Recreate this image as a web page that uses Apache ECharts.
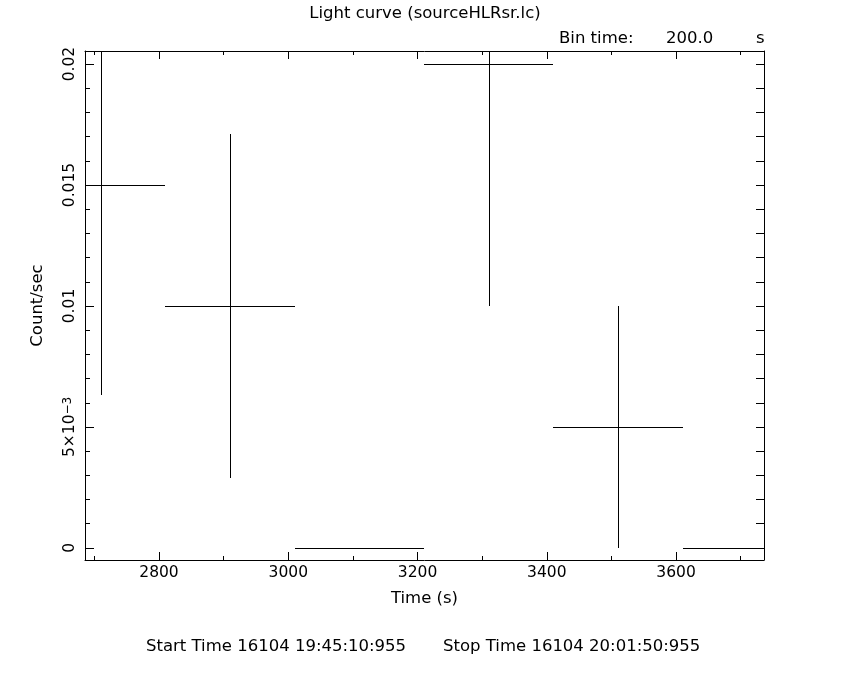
<!DOCTYPE html>
<html>
<head>
<meta charset="utf-8">
<script src="https://cdn.jsdelivr.net/npm/echarts@6/dist/echarts.min.js"></script>
<style>
html,body{margin:0;padding:0;background:#fff;}
#chart{width:850px;height:680px;}
</style>
</head>
<body>
<div id="chart"></div>
<script>
// ---- data ----
const binTime = 200;                                   // s
const binCenters = [2710, 2910, 3110, 3310, 3510, 3710];
const rates      = [0.015, 0.010, 0, 0.020, 0.005, 0];
const rateErrors = [0.0087, 0.0071, 0, 0.010, 0.005, 0];

const xMajorTicks = [2800, 3000, 3200, 3400, 3600];
const xTickLabels = ['2800', '3000', '3200', '3400', '3600'];
const xMinorTicks = [2700, 2900, 3100, 3300, 3500, 3700];
const yMajorTicks = [0, 0.005, 0.01, 0.015, 0.02];
const yTickLabels = ['{b|0}', '{b|5×10}{s|−3}', '{b|0.01}', '{b|0.015}', '{b|0.02}'];
const yMinorTicks = [0.001, 0.002, 0.003, 0.004, 0.006, 0.007, 0.008, 0.009,
                     0.011, 0.012, 0.013, 0.014, 0.016, 0.017, 0.018, 0.019];
const yAllTicks = [0, 0.001, 0.002, 0.003, 0.004, 0.005, 0.006, 0.007, 0.008, 0.009, 0.01,
                   0.011, 0.012, 0.013, 0.014, 0.015, 0.016, 0.017, 0.018, 0.019, 0.02];

const titleText = 'Light curve (sourceHLRsr.lc)';
const binLabel = 'Bin time:';
const binValue = '200.0';
const binUnit = 's';
const startText = 'Start Time 16104 19:45:10:955';
const stopText = 'Stop Time 16104 20:01:50:955';

// ---- chart ----
const FONT = '"DejaVu Sans", sans-serif';
const X_MIN = 2685.5, X_MAX = 3736;
const Y_MIN = -0.0005, Y_MAX = 0.02054;

const chart = echarts.init(document.getElementById('chart'), null, {renderer: 'canvas'});

const black = {color: '#000', width: 1};
function nearestIndex(arr, v) {
  let idx = 0, best = Infinity;
  arr.forEach((m, i) => { const d = Math.abs(m - v); if (d < best) { best = d; idx = i; } });
  return idx;
}
function xAxisDef(pos, ticks, len, opts) {
  return Object.assign({
    type: 'value', gridIndex: 0, position: pos, min: X_MIN, max: X_MAX,
    axisLine: {show: false, onZero: false, lineStyle: black},
    axisTick: {show: true, inside: true, length: len, customValues: ticks, lineStyle: black},
    axisLabel: {show: false},
    splitLine: {show: false}
  }, opts || {});
}
function yAxisDef(pos, ticks, len, opts) {
  return Object.assign({
    type: 'value', gridIndex: 0, position: pos, min: Y_MIN, max: Y_MAX,
    axisLine: {show: false, onZero: false, lineStyle: black},
    axisTick: {show: true, inside: true, length: len, customValues: ticks, lineStyle: black},
    axisLabel: {show: false},
    splitLine: {show: false}
  }, opts || {});
}

const seriesData = binCenters.map((t, i) => [t, rates[i], rateErrors[i]]);

const option = {
  animation: false,
  backgroundColor: '#fff',
  grid: {left: 85, top: 51, right: 86, bottom: 120, containLabel: false},
  xAxis: [
    xAxisDef('bottom', xMajorTicks, 8, {
      axisLine: {show: true, onZero: false, lineStyle: black},
      axisLabel: {show: true, customValues: xMajorTicks, margin: 5, color: '#000',
                  fontFamily: FONT, fontSize: 15.5,
                  formatter: v => xTickLabels[nearestIndex(xMajorTicks, v)]},
      name: 'Time (s)', nameLocation: 'middle', nameGap: 30,
      nameTextStyle: {color: '#000', fontFamily: FONT, fontSize: 16.5}
    }),
    xAxisDef('bottom', xMinorTicks, 4),
    xAxisDef('top', xMajorTicks, 8, {axisLine: {show: true, onZero: false, lineStyle: black}}),
    xAxisDef('top', xMinorTicks, 4)
  ],
  yAxis: [
    yAxisDef('left', yMajorTicks, 9, {
      axisLine: {show: true, onZero: false, lineStyle: black},
      axisLabel: {
        show: true, customValues: yMajorTicks, rotate: 90, margin: 7, color: '#000',
        fontFamily: FONT, fontSize: 15.5,
        formatter: v => yTickLabels[nearestIndex(yMajorTicks, v)],
        rich: {
          b: {fontFamily: FONT, fontSize: 15.5, color: '#000', lineHeight: 16, verticalAlign: 'bottom'},
          s: {fontFamily: FONT, fontSize: 12, color: '#000', lineHeight: 12, verticalAlign: 'top', padding: [0, 0, 8, 0]}
        }
      },
      name: 'Count/sec', nameLocation: 'middle', nameGap: 38.5,
      nameTextStyle: {color: '#000', fontFamily: FONT, fontSize: 16.5}
    }),
    yAxisDef('left', yMinorTicks, 5),
    yAxisDef('right', yAllTicks, 8, {axisLine: {show: true, onZero: false, lineStyle: black}})
  ],
  graphic: [
    {type: 'text', x: 425, y: 14, style: {text: titleText, fill: '#000', font: '16.5px ' + FONT, align: 'center', verticalAlign: 'middle'}},
    {type: 'text', x: 559, y: 39, style: {text: binLabel, fill: '#000', font: '16.5px ' + FONT, align: 'left', verticalAlign: 'middle'}},
    {type: 'text', x: 666, y: 39, style: {text: binValue, fill: '#000', font: '16.5px ' + FONT, align: 'left', verticalAlign: 'middle'}},
    {type: 'text', x: 756, y: 39, style: {text: binUnit, fill: '#000', font: '16.5px ' + FONT, align: 'left', verticalAlign: 'middle'}},
    {type: 'text', x: 146, y: 647, style: {text: startText, fill: '#000', font: '16.5px ' + FONT, align: 'left', verticalAlign: 'middle'}},
    {type: 'text', x: 443, y: 647, style: {text: stopText, fill: '#000', font: '16.5px ' + FONT, align: 'left', verticalAlign: 'middle'}}
  ],
  series: [{
    type: 'custom',
    xAxisIndex: 0, yAxisIndex: 0,
    silent: true,
    clip: true,
    data: seriesData,
    renderItem: function (params, api) {
      const t = api.value(0), r = api.value(1), e = api.value(2);
      const cs = params.coordSys;
      const rect = {x: cs.x, y: cs.y, width: cs.width, height: cs.height};
      const snap = v => Math.round(v) + 0.5;
      const children = [];
      const h = echarts.graphic.clipPointsByRect(
        [api.coord([t - binTime / 2, r]), api.coord([t + binTime / 2, r])], rect);
      const hy = snap(h[0][1]);
      children.push({type: 'line', shape: {x1: Math.round(h[0][0]), y1: hy, x2: Math.round(h[1][0]), y2: hy},
                     style: {stroke: '#000', lineWidth: 1}});
      if (e > 0) {
        const v = echarts.graphic.clipPointsByRect(
          [api.coord([t, r + e]), api.coord([t, r - e])], rect);
        const vx = snap(v[0][0]);
        children.push({type: 'line', shape: {x1: vx, y1: Math.round(v[0][1]), x2: vx, y2: Math.round(v[1][1])},
                       style: {stroke: '#000', lineWidth: 1}});
      }
      return {type: 'group', children: children};
    }
  }]
};
chart.setOption(option);
</script>
</body>
</html>
